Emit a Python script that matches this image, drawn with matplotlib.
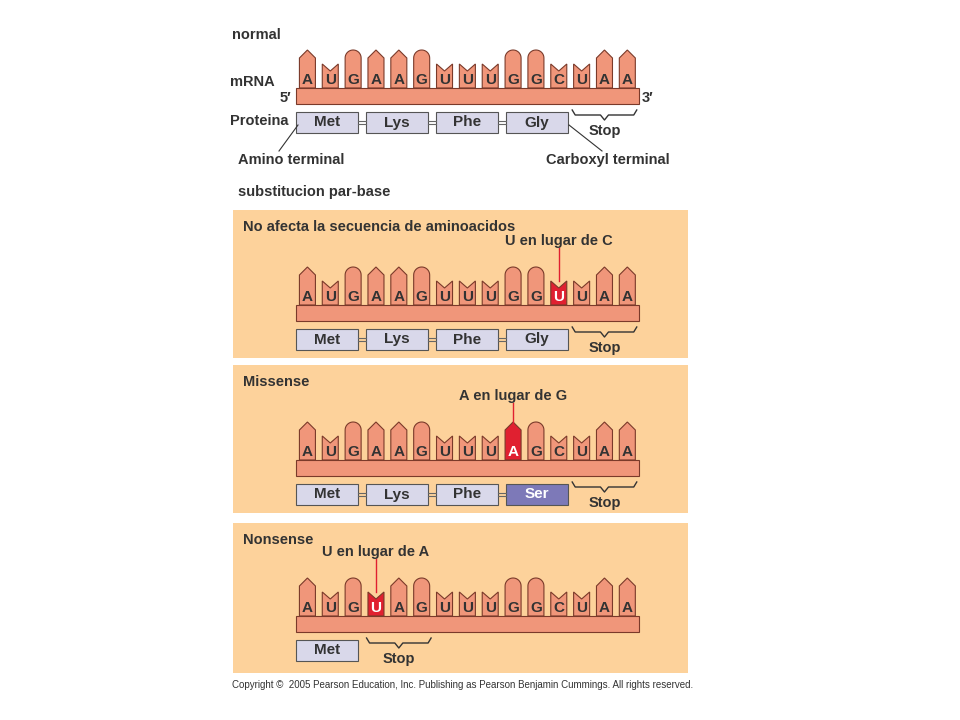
import matplotlib
matplotlib.use("Agg")
import matplotlib.pyplot as plt
from matplotlib.patches import Polygon, Rectangle, FancyBboxPatch
import numpy as np

plt.rcParams["font.family"] = "Liberation Sans"

normal_seq = list("AUGAAGUUUGGCUAA")
silent_seq = list("AUGAAGUUUGGUUAA")
missense_seq = list("AUGAAGUUUAGCUAA")
nonsense_seq = list("AUGUAGUUUGGCUAA")

normal_prot = ["Met", "Lys", "Phe", "Gly"]
missense_prot = ["Met", "Lys", "Phe", "Ser"]
nonsense_prot = ["Met"]

TOOTH = "#f0967a"
EDGE = "#7a3a2a"
RED = "#e02030"
PANEL = "#fdd29b"
PROT = "#d9d8ea"
SER = "#7d79b8"

fig = plt.figure(figsize=(9.6, 7.2), dpi=100)
ax = fig.add_axes([0, 0, 1, 1])
ax.set_xlim(0, 960)
ax.set_ylim(720, 0)
ax.axis("off")

X0, STEP, TW = 296, 22.85, 16


def tooth(cx, base, letter, color):
    l, r = cx - TW / 2, cx + TW / 2
    if letter == "A":
        pts = [(l, base), (l, base - 30), (cx, base - 38), (r, base - 30), (r, base)]
    elif letter == "G":
        t = np.linspace(np.pi, 0, 20)
        arc = [(cx + TW / 2 * np.cos(a), base - 30 - 8 * np.sin(a)) for a in t]
        pts = [(l, base)] + arc + [(r, base)]
    else:
        pts = [(l, base), (l, base - 24), (cx, base - 17), (r, base - 24), (r, base)]
    ax.add_patch(Polygon(pts, closed=True, fc=color, ec=EDGE, lw=0.8))
    ax.text(cx, base - 8, letter, ha="center", va="center", fontsize=11,
            fontweight="bold", color="white" if color == RED else "#333333")


def brace(x1, x2, y):
    xm = (x1 + x2) / 2
    ax.plot([x1, x1 + 3, xm - 4, xm, xm + 4, x2 - 3, x2],
            [y, y + 5, y + 5, y + 10, y + 5, y + 5, y], color="#333333", lw=1)


def strand(off, seq, prots, mut=None, stop=(12, 15)):
    base = 88 + off
    for i, b in enumerate(seq):
        tooth(X0 + STEP * i + STEP / 2, base, b, RED if i == mut else TOOTH)
    ax.add_patch(Rectangle((X0, base), STEP * 15, 16, fc=TOOTH, ec=EDGE, lw=0.8))
    for j, p in enumerate(prots):
        x = X0 + j * 70
        if j > 0:
            ax.plot([x - 8, x], [base + 32.5, base + 32.5], color="#666666", lw=0.8)
            ax.plot([x - 8, x], [base + 35.5, base + 35.5], color="#666666", lw=0.8)
        fc = SER if p == "Ser" else PROT
        ax.add_patch(Rectangle((x, base + 24), 62, 21, fc=fc, ec="#555555", lw=0.8))
        ax.text(x + 31, base + 34.5, p, ha="center", va="center", fontsize=11,
                fontweight="bold", color="white" if p == "Ser" else "#333333")
    x1, x2 = X0 + STEP * stop[0] + 2, X0 + STEP * stop[1] - 2
    brace(x1, x2, base + 22)
    ax.text((x1 + x2) / 2, base + 43, "Stop", ha="center", va="center",
            fontsize=10.5, fontweight="bold", color="#333333")


lbl = dict(fontsize=10.5, fontweight="bold", color="#333333", va="center")

# normal
ax.text(232, 35, "normal", **lbl)
ax.text(230, 82, "mRNA", **lbl)
ax.text(280, 98, "5\u2032", **lbl)
ax.text(642, 98, "3\u2032", **lbl)
ax.text(230, 121, "Proteina", **lbl)
strand(0, normal_seq, normal_prot)
ax.plot([279, 298], [151, 125], color="#333333", lw=0.8)
ax.plot([569, 602], [125, 151], color="#333333", lw=0.8)
ax.text(238, 160, "Amino terminal", **lbl)
ax.text(546, 160, "Carboxyl terminal", **lbl)
ax.text(238, 192, "substitucion par-base", **lbl)

panels = [(210, 148, "No afecta la secuencia de aminoacidos"),
          (365, 148, "Missense"),
          (523, 150, "Nonsense")]
for y, h, title in panels:
    ax.add_patch(Rectangle((233, y), 455, h, fc=PANEL, ec="none"))
    ax.text(243, y + 17, title, **lbl)

strand(217, silent_seq, normal_prot, mut=11)
strand(372, missense_seq, missense_prot, mut=9)
strand(528, nonsense_seq, nonsense_prot, mut=3, stop=(3, 6))

for off, i, text in [(217, 11, "U en lugar de C"), (372, 9, "A en lugar de G"),
                     (528, 3, "U en lugar de A")]:
    cx = X0 + STEP * i + STEP / 2
    ax.plot([cx, cx], [31 + off, 64 + off], color=RED, lw=1)
    ax.text(cx, 31 + off, text, ha="center", va="bottom", fontsize=10.5,
            fontweight="bold", color="#333333")

ax.text(232, 685, "Copyright \u00a9  2005 Pearson Education, Inc. Publishing as Pearson Benjamin Cummings. All rights reserved.",
        fontsize=7, color="#333333", va="center")

fig.savefig("out.png", dpi=100)
